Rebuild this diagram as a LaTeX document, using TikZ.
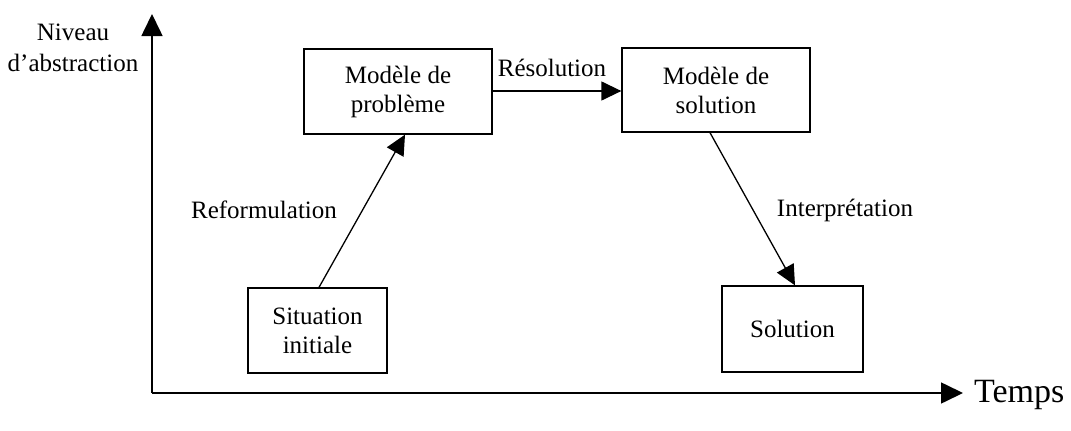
\documentclass[tikz,border=0pt]{standalone}
\usepackage{fontspec}
\setmainfont{Liberation Serif}
\usetikzlibrary{arrows.meta}
\begin{document}
\begin{tikzpicture}[x=1pt,y=-1pt,
  box/.style={draw,line width=1.3pt,inner sep=0pt,align=center,font=\fontsize{25}{29}\selectfont},
  lbl/.style={font=\fontsize{25}{29}\selectfont,inner sep=0pt},
  arr/.style={line width=1.3pt,-{Triangle[length=20pt,width=19pt]}},
  axis/.style={line width=1.6pt,-{Triangle[length=22pt,width=21pt]}}]
\useasboundingbox (0,0) rectangle (1071,431);
\node[box,minimum width=188pt,minimum height=85pt] (mp) at (398,91.5) {Modèle de\\problème};
\node[box,minimum width=188pt,minimum height=84pt] (ms) at (716,90) {Modèle de\\solution};
\node[box,minimum width=139pt,minimum height=85pt] (si) at (317.5,330.5) {Situation\\initiale};
\node[box,minimum width=141pt,minimum height=86pt] (so) at (792.5,329) {Solution};
\coordinate (o) at (152,393);
\coordinate (ytip) at (152,14);
\coordinate (xtip) at (963,393);
\draw[axis] (o) -- (ytip);
\draw[axis] (o) -- (xtip);
\node[lbl,align=center,font=\fontsize{25}{31}\selectfont] (yl) at (73,48) {Niveau\\d’abstraction};
\node[lbl,anchor=west,font=\fontsize{34}{38}\selectfont] (xl) at (974,395) {Temps};
\draw[arr] (si.north -| 319,0) -- (mp.south -| 405,0);
\draw[arr] (mp.east |- 0,91) -- (ms.west |- 0,91);
\draw[arr] (ms.south -| 710,0) -- (so.north -| 795,0);
\node[lbl] (l1) at (264,210) {Reformulation};
\node[lbl] (l2) at (552,68) {Résolution};
\node[lbl] (l3) at (845,210) {Interprétation};
\end{tikzpicture}
\end{document}
